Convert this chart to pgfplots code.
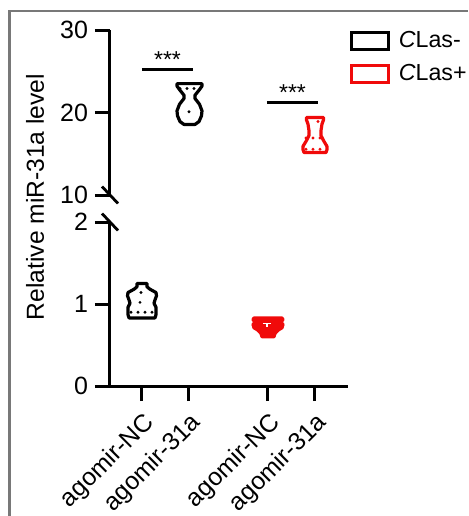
\documentclass[border=0pt]{standalone}
\usepackage{fontspec}
\setmainfont{Liberation Sans}
\usepackage{pgfplots}
\pgfplotsset{compat=1.18}
\definecolor{frame}{RGB}{120,120,120}
\definecolor{cred}{RGB}{240,10,10}
\pgfplotsset{vstyle/.style={
  scale only axis, width=119pt, xmin=110, xmax=348,
  axis line style={line width=1.5pt, black},
  tick style={line width=1.5pt, black},
  tick align=outside, major tick length=7.5pt,
  tick label style={font=\fontsize{12.5}{14}\selectfont},
  /pgf/number format/assume math mode=true,
  clip=false},
  violin/.style={line width=1.6pt, line join=round},
  qline/.style={line width=1.6pt, dash pattern=on 0pt off 3.5pt, line cap=round}
}
\begin{document}
\begin{tikzpicture}
\useasboundingbox (0,0) rectangle (234pt,-258pt);
\draw[frame, line width=1.15pt] (4.7pt,-258pt) -- (4.7pt,-5.5pt) -- (234pt,-5.5pt);
\node[rotate=90, font=\fontsize{12.3}{14}\selectfont] at (17.5pt,-98.5pt) {Relative miR-31a level};
% upper axis
\begin{axis}[vstyle, at={(55pt,-97.5pt)}, anchor=south west, height=82.5pt,
  ymin=10, ymax=30, ytick={10,20,30},
  axis y line*=left, axis x line=none,
  legend cell align=left,
  legend image code/.code={\draw[#1, line width=1.6pt] (0pt,-4.25pt) rectangle (18.5pt,4.25pt);},
  legend style={draw=none, fill=none, at={(1.005,1.02)}, anchor=north west, inner sep=0pt,
    row sep=3pt, column sep=2.5pt, font=\fontsize{11.6}{13}\selectfont}]
% violin agomir-31a CLas-
\addplot[violin, black, forget plot] coordinates {
 (195,18.55) (199,18.9) (201.5,19.6) (202,20.2) (199.5,21.0) (195,21.7) (195,22.1) (199,22.7) (202,23.2) (202,23.5)
 (177,23.5) (177,23.2) (180,22.7) (184,22.1) (184,21.7) (179.5,21.0) (177,20.2) (177.5,19.6) (180,18.9) (184,18.55)} -- cycle;
\addplot[qline, black, forget plot] coordinates {(180,22.9) (200,22.9)};
\addplot[qline, black, forget plot] coordinates {(189,20.1) (190,20.1)};
% violin agomir-31a CLas+
\addplot[violin, cred, forget plot] coordinates {
 (326,15.15) (327,15.5) (327,15.9) (324,16.5) (321,17.2) (321,17.8) (322,18.6) (323.5,19.1) (323.5,19.39)
 (306.5,19.39) (306.5,19.1) (308,18.6) (309,17.8) (309,17.2) (306,16.5) (303,15.9) (303,15.5) (304,15.15)} -- cycle;
\addplot[qline, cred, forget plot] coordinates {(318,18.9) (319,18.9)};
\addplot[qline, cred, forget plot] coordinates {(306,16.9) (324,16.9)};
\addplot[qline, cred, forget plot] coordinates {(306,15.55) (324,15.55)};
% significance bars
\addplot[black, line width=1.4pt, forget plot] coordinates {(142,25.2) (193,25.2)};
\addplot[black, line width=1.4pt, forget plot] coordinates {(267,21.2) (318,21.2)};
\node[anchor=base, font=\fontsize{11.5}{13}\selectfont, inner sep=0pt] at (axis cs:167.5,25.4) {***};
\node[anchor=base, font=\fontsize{11.5}{13}\selectfont, inner sep=0pt] at (axis cs:292.5,21.4) {***};
% break mark
\draw[line width=1.4pt] ([xshift=-4pt,yshift=4.25pt]axis cs:110,10) -- ([xshift=4pt,yshift=-4.25pt]axis cs:110,10);
\addlegendimage{black}
\addlegendentry{\textit{C}Las-}
\addlegendimage{cred}
\addlegendentry{\textit{C}Las+}
\end{axis}
% lower axis
\begin{axis}[vstyle, at={(55pt,-193pt)}, anchor=south west, height=82pt,
  ymin=0, ymax=2, ytick={0,1,2},
  axis y line*=left, axis x line*=bottom,
  xtick={142,189,268,315},
  xticklabels={agomir-NC,agomir-31a,agomir-NC,agomir-31a},
  xticklabel style={rotate=45, anchor=north east, font=\fontsize{12.4}{14}\selectfont}]
% violin agomir-NC CLas-
\addplot[violin, black] coordinates {
 (155,0.83) (156,0.87) (156,0.96) (154,1.01) (155,1.05) (156.5,1.10) (156,1.14) (150,1.18) (147,1.21) (147,1.25)
 (137,1.25) (137,1.21) (134,1.18) (128,1.14) (127.5,1.10) (129,1.05) (130,1.01) (128,0.96) (128,0.87) (129,0.83)} -- cycle;
\addplot[qline, black] coordinates {(141,1.14) (142,1.14)};
\addplot[qline, black] coordinates {(140,1.02) (141,1.02)};
\addplot[qline, black] coordinates {(131,0.90) (153,0.90)};
% violin agomir-NC CLas+
\addplot[violin, cred, fill=cred] coordinates {
 (274,0.60) (275,0.64) (278,0.68) (282,0.71) (283,0.75) (281,0.78) (283,0.81) (282,0.83)
 (254,0.83) (253,0.81) (255,0.78) (253,0.75) (254,0.71) (258,0.68) (261,0.64) (262,0.60)} -- cycle;
\addplot[white, line width=0.8pt] coordinates {(263,0.76) (271,0.76)};
\addplot[white, line width=0.8pt] coordinates {(267,0.76) (267,0.72)};
% break mark
\draw[line width=1.4pt] ([xshift=-4pt,yshift=4.25pt]axis cs:110,2) -- ([xshift=4pt,yshift=-4.25pt]axis cs:110,2);
\end{axis}
\end{tikzpicture}
\end{document}
